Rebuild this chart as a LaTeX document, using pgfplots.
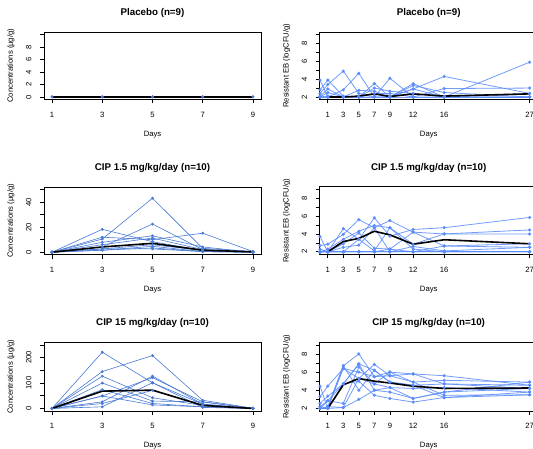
\documentclass[border=0pt]{standalone}
\usepackage{pgfplots}
\pgfplotsset{compat=1.18}
\usepackage{fontspec}
\setmainfont{Liberation Sans}
\definecolor{bluel}{RGB}{72,122,212}
\definecolor{bluer}{RGB}{88,138,250}

\pgfplotsset{
  panel/.style={
    scale only axis, anchor=south west, clip=true,
    axis line style={line width=0.7bp},
    tick style={line width=0.6bp, black},
    major tick length=4bp,
    tick align=outside, xtick pos=bottom, ytick pos=left,
    /pgf/number format/assume math mode=true,
    ticklabel style={font=\fontsize{7.7}{8}\selectfont},
    xticklabel shift=5bp, yticklabel shift=5bp,
    yticklabel style={rotate=90, anchor=south},
    title style={font=\bfseries\fontsize{9.8}{11}\selectfont, at={(axis description cs:0.5,1)}, anchor=center, yshift=13bp},
    xlabel=Days,
    every axis x label/.style={font=\fontsize{7.7}{8}\selectfont, at={(axis description cs:0.5,0)}, anchor=center, yshift=-35bp},
    every axis y label/.style={font=\fontsize{7.7}{8}\selectfont, at={(axis description cs:0,0.5)}, xshift=-33bp, rotate=90, anchor=center},
  },
  conc/.style={panel, width=217bp, xmin=0.68, xmax=9.32, xtick={1,3,5,7,9},
    ylabel={Concentrations (µg/g)}},
  res/.style={panel, width=218bp, xmin=-0.04, xmax=28.04, xtick={1,3,5,7,9,12,16,27},
    ymin=1.72, ymax=9.28, ytick={2,...,9}, yticklabels={2,,4,,6,,8,},
    ylabel={Resistant EB (logCFU/g)}},
  indl/.style={bluel, line width=0.6bp, mark=*, mark size=1.1bp, mark options={solid}},
  indr/.style={bluer, opacity=0.85, line width=0.8bp, mark=*, mark size=1.2bp, mark options={solid}},
  avg/.style={black, line width=1.6bp, mark=none},
}

\begin{document}
\begin{tikzpicture}
\useasboundingbox (0bp,0bp) rectangle (533bp,449bp);

% ---- Placebo, concentrations
\begin{axis}[conc, at={(44bp,349.5bp)}, height=67.5bp, title={Placebo (n=9)},
  ymin=-0.4, ymax=10.4, ytick={0,2,...,10}, yticklabels={0,2,4,6,8,}]
\addplot[indl] coordinates {(1,0) (3,0) (5,0) (7,0) (9,0)};
\addplot[indl] coordinates {(1,0.05) (3,0.05) (5,0.05) (7,0.05) (9,0.05)};
\addplot[avg] coordinates {(1,0) (3,0) (5,0) (7,0) (9,0)};
\end{axis}

% ---- Placebo, resistant EB
\begin{axis}[res, at={(319.7bp,349.5bp)}, height=67.5bp, title={Placebo (n=9)}]
\addplot[indr] coordinates {(0,3.9) (1,2.0) (3,2.8) (5,4.65) (7,2.0) (9,2.0) (12,2.9) (16,4.3) (27,2.4)};
\addplot[indr] coordinates {(0,2.8) (1,3.9) (3,2.1) (5,2.0) (7,3.5) (9,2.0) (12,3.5) (16,2.0) (27,5.9)};
\addplot[indr] coordinates {(0,2.4) (1,3.4) (3,4.9) (5,2.4) (7,2.0) (9,4.1) (12,2.0) (16,2.95) (27,3.0)};
\addplot[indr] coordinates {(0,2.1) (1,2.9) (3,2.0) (5,2.75) (7,2.65) (9,2.0) (12,3.3) (16,2.5) (27,2.0)};
\addplot[indr] coordinates {(0,2.0) (1,2.5) (3,2.0) (5,2.0) (7,3.0) (9,2.65) (12,2.4) (16,2.0) (27,2.0)};
\addplot[indr] coordinates {(0,2.0) (1,2.1) (3,2.0) (5,2.0) (7,2.4) (9,2.4) (12,2.0) (16,2.0) (27,2.4)};
\addplot[indr] coordinates {(0,2.0) (1,2.0) (3,2.0) (5,2.0) (7,2.0) (9,2.0) (12,2.0) (16,2.0) (27,2.0)};
\addplot[indr] coordinates {(0,2.0) (1,2.0) (3,2.0) (5,2.0) (7,2.0) (9,2.0) (12,2.9) (16,2.0) (27,2.0)};
\addplot[indr] coordinates {(0,2.0) (1,2.0) (3,2.0) (5,2.0) (7,2.0) (9,2.0) (12,2.0) (16,2.0) (27,2.0)};
\addplot[avg] coordinates {(1,2.0) (3,2.0) (5,2.1) (7,2.35) (9,2.05) (12,2.35) (16,2.1) (27,2.35)};
\end{axis}

% ---- CIP 1.5, concentrations
\begin{axis}[conc, at={(44bp,194.3bp)}, height=67.5bp, title={CIP 1.5 mg/kg/day (n=10)},
  ymin=-2, ymax=52, ytick={0,10,...,50}, yticklabels={0,,20,,40,}]
\addplot[indl] coordinates {(1,0) (3,10.5) (5,43.2) (7,3.1) (9,0.5)};
\addplot[indl] coordinates {(1,0) (3,4.2) (5,22.5) (7,2.1) (9,0.3)};
\addplot[indl] coordinates {(1,0) (3,18.3) (5,8.4) (7,1.3) (9,0)};
\addplot[indl] coordinates {(1,0) (3,12.0) (5,10.0) (7,15.2) (9,0.5)};
\addplot[indl] coordinates {(1,0) (3,7.9) (5,13.1) (7,4.2) (9,0)};
\addplot[indl] coordinates {(1,0) (3,6.0) (5,11.3) (7,2.1) (9,0)};
\addplot[indl] coordinates {(1,0) (3,2.6) (5,6.0) (7,1.3) (9,0)};
\addplot[indl] coordinates {(1,0) (3,1.6) (5,4.7) (7,0.5) (9,0)};
\addplot[indl] coordinates {(1,0) (3,1.6) (5,3.4) (7,0.5) (9,0)};
\addplot[indl] coordinates {(1,0) (3,2.6) (5,2.6) (7,0.5) (9,0)};
\addplot[avg] coordinates {(1,0) (3,4.2) (5,7.1) (7,1.6) (9,0.3)};
\end{axis}

% ---- CIP 1.5, resistant EB
\begin{axis}[res, at={(319.7bp,194.7bp)}, height=67.5bp, title={CIP 1.5 mg/kg/day (n=10)}]
\addplot[indr] coordinates {(0,3.7) (1,2.0) (3,4.6) (5,3.4) (7,5.8) (9,3.75) (12,4.5) (16,4.7) (27,5.85)};
\addplot[indr] coordinates {(0,2.7) (1,2.85) (3,3.95) (5,5.6) (7,4.7) (9,5.5) (12,4.2) (16,4.0) (27,4.45)};
\addplot[indr] coordinates {(0,2.0) (1,2.3) (3,3.4) (5,4.3) (7,4.95) (9,4.7) (12,2.85) (16,4.0) (27,4.0)};
\addplot[indr] coordinates {(0,2.0) (1,2.0) (3,2.9) (5,4.1) (7,2.4) (9,2.3) (12,4.2) (16,2.65) (27,2.9)};
\addplot[indr] coordinates {(0,2.0) (1,2.0) (3,2.5) (5,2.75) (7,4.7) (9,2.0) (12,2.6) (16,2.1) (27,2.5)};
\addplot[indr] coordinates {(0,2.0) (1,2.0) (3,2.0) (5,3.4) (7,2.1) (9,4.7) (12,2.3) (16,2.0) (27,2.0)};
\addplot[indr] coordinates {(0,2.0) (1,2.0) (3,2.0) (5,2.0) (7,2.0) (9,2.3) (12,2.0) (16,2.0) (27,2.0)};
\addplot[indr] coordinates {(0,2.3) (1,2.0) (3,2.0) (5,2.0) (7,2.0) (9,2.0) (12,2.0) (16,2.0) (27,2.0)};
\addplot[indr] coordinates {(0,2.0) (1,2.0) (3,2.0) (5,2.0) (7,2.0) (9,2.0) (12,2.0) (16,2.65) (27,2.5)};
\addplot[indr] coordinates {(0,2.0) (1,2.0) (3,2.0) (5,2.0) (7,2.0) (9,2.0) (12,2.0) (16,2.0) (27,2.0)};
\addplot[avg] coordinates {(1,2.0) (3,3.15) (5,3.5) (7,4.3) (9,3.9) (12,2.85) (16,3.35) (27,2.9)};
\end{axis}

% ---- CIP 15, concentrations
\begin{axis}[conc, at={(44bp,38bp)}, height=68.7bp, title={CIP 15 mg/kg/day (n=10)},
  ymin=-10, ymax=260, ytick={0,50,...,250}, yticklabels={0,,100,,200,}]
\addplot[indl] coordinates {(1,0) (3,221) (5,101) (7,17) (9,0)};
\addplot[indl] coordinates {(1,0) (3,145) (5,208) (7,32) (9,1)};
\addplot[indl] coordinates {(1,0) (3,127) (5,42) (7,12) (9,0)};
\addplot[indl] coordinates {(1,0) (3,100) (5,29) (7,26) (9,0)};
\addplot[indl] coordinates {(1,0) (3,74) (5,19.5) (7,6.5) (9,0)};
\addplot[indl] coordinates {(1,0) (3,49) (5,121) (7,26) (9,0)};
\addplot[indl] coordinates {(1,0) (3,26) (5,127) (7,17) (9,0)};
\addplot[indl] coordinates {(1,0) (3,19.5) (5,71) (7,12) (9,0)};
\addplot[indl] coordinates {(1,0) (3,6.5) (5,101) (7,4) (9,0)};
\addplot[indl] coordinates {(1,0) (3,49) (5,14) (7,6.5) (9,0)};
\addplot[avg] coordinates {(1,0) (3,68) (5,72) (7,12) (9,0)};
\end{axis}

% ---- CIP 15, resistant EB
\begin{axis}[res, at={(319.7bp,38bp)}, height=68.7bp, title={CIP 15 mg/kg/day (n=10)}]
\addplot[indr] coordinates {(0,4.45) (1,2.0) (3,6.7) (5,8.0) (7,5.5) (9,6.0) (12,4.9) (16,5.1) (27,4.9)};
\addplot[indr] coordinates {(0,3.3) (1,4.45) (3,6.4) (5,5.3) (7,6.85) (9,5.6) (12,5.8) (16,5.6) (27,4.55)};
\addplot[indr] coordinates {(0,2.55) (1,3.35) (3,4.7) (5,6.9) (7,6.2) (9,4.9) (12,4.55) (16,4.7) (27,4.2)};
\addplot[indr] coordinates {(0,2.2) (1,2.85) (3,2.55) (5,6.55) (7,4.7) (9,4.3) (12,4.2) (16,4.3) (27,3.8)};
\addplot[indr] coordinates {(0,2.0) (1,2.2) (3,2.1) (5,3.0) (7,4.0) (9,3.8) (12,3.1) (16,3.8) (27,4.2)};
\addplot[indr] coordinates {(0,2.0) (1,2.0) (3,6.4) (5,6.0) (7,5.5) (9,5.6) (12,4.9) (16,3.45) (27,3.5)};
\addplot[indr] coordinates {(0,2.0) (1,2.0) (3,4.7) (5,5.0) (7,3.45) (9,3.1) (12,2.7) (16,3.2) (27,3.8)};
\addplot[indr] coordinates {(0,2.0) (1,2.2) (3,6.7) (5,4.0) (7,6.2) (9,4.9) (12,4.55) (16,3.2) (27,3.5)};
\addplot[indr] coordinates {(0,2.0) (1,2.0) (3,2.1) (5,5.3) (7,4.7) (9,6.0) (12,5.8) (16,4.7) (27,4.55)};
\addplot[indr] coordinates {(0,2.0) (1,2.85) (3,4.7) (5,6.9) (7,4.0) (9,4.3) (12,3.1) (16,3.8) (27,4.9)};
\addplot[avg] coordinates {(1,2.0) (3,4.6) (5,5.3) (7,5.0) (9,4.8) (12,4.45) (16,4.2) (27,4.25)};
\end{axis}
\end{tikzpicture}
\end{document}
